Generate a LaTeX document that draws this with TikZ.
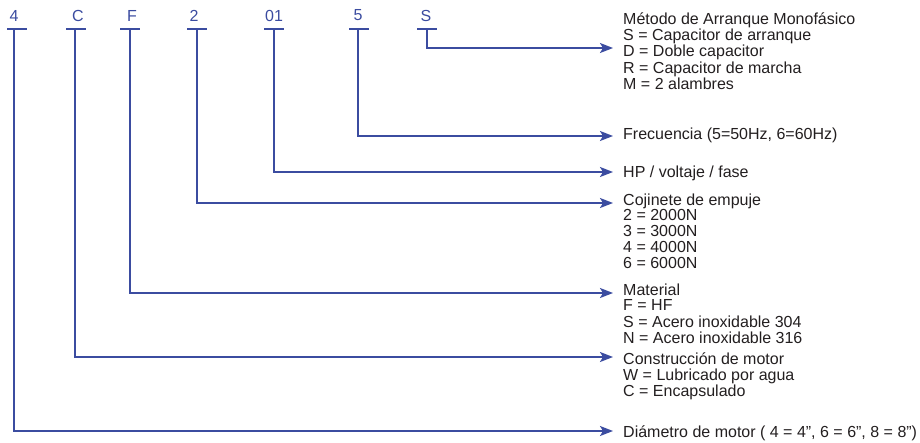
\documentclass[tikz,border=0pt]{standalone}
\usepackage{fontspec}
\setmainfont{Liberation Sans}
\usetikzlibrary{arrows.meta}
\definecolor{paper}{HTML}{FFFFFF}
\definecolor{ink}{HTML}{231F20}
\definecolor{code}{HTML}{3B4CA0}
\newcommand{\BarY}{29}
\newcommand{\BarW}{20}
\newcommand{\TipX}{613}
\newcommand{\TextX}{623}

\begin{document}
\begin{tikzpicture}[x=1pt, y=-1pt,
    font=\fontsize{16}{15.8}\selectfont, ink,
    lead/.style={-{Stealth[length=13pt, width=10pt, inset=3pt]}, line width=1.8pt, draw=code},
    bar/.style={line width=1.8pt, draw=code},
    digit/.style={text=code, inner sep=0pt},
    legend/.style={anchor=base west, inner sep=0pt, text=ink},
  ]
\useasboundingbox[fill=paper] (0,0) rectangle (920,442);

% Code letters along the top: name, letter, letter x, stem x, bar left, arrow y.
\foreach \n/\lab/\lx/\sx/\bx/\ay in {
    a/4/14/14/7/431, b/C/78/75/66/357, c/F/132/130/120/293, d/2/194/197/187/203,
    e/01/274/274/264/172, f/5/358/358/349/136, g/S/426/427/417/48} {
  \node[digit] (k\n) at (\lx, 15.5) {\lab};
  \draw[bar] (\bx, \BarY) -- (\bx + \BarW, \BarY);
  \coordinate (t\n) at (\sx, \BarY);
  \coordinate (a\n) at (\TipX, \ay);
  \draw[lead] (t\n) |- (a\n);
}

% What each letter stands for (the first line sits on the given baseline;
% accented lines are smashed so the rows keep an even pitch).
\node[legend] (dg) at (\TextX, 24) {\begin{tabular}[t]{@{}l@{}}\smash{Método de Arranque Monofásico}\\S = Capacitor de arranque\\D = Doble capacitor\\R = Capacitor de marcha\\M = 2 alambres\end{tabular}};
\node[legend] (df) at (\TextX, 139) {Frecuencia (5=50Hz, 6=60Hz)};
\node[legend] (de) at (\TextX, 177) {HP / voltaje / fase};
\node[legend] (dd) at (\TextX, 205) {\begin{tabular}[t]{@{}l@{}}Cojinete de empuje\\2 = 2000N\\3 = 3000N\\4 = 4000N\\6 = 6000N\end{tabular}};
\node[legend] (dc) at (\TextX, 295) {\begin{tabular}[t]{@{}l@{}}Material\\F = HF\\S = Acero inoxidable 304\\N = Acero inoxidable 316\end{tabular}};
\node[legend] (db) at (\TextX, 364) {\begin{tabular}[t]{@{}l@{}}\smash{Construcción de motor}\\W = Lubricado por agua\\C = Encapsulado\end{tabular}};
\node[legend] (da) at (\TextX, 437) {Diámetro de motor ( 4 = 4”, 6 = 6”, 8 = 8”)};

\end{tikzpicture}
\end{document}
